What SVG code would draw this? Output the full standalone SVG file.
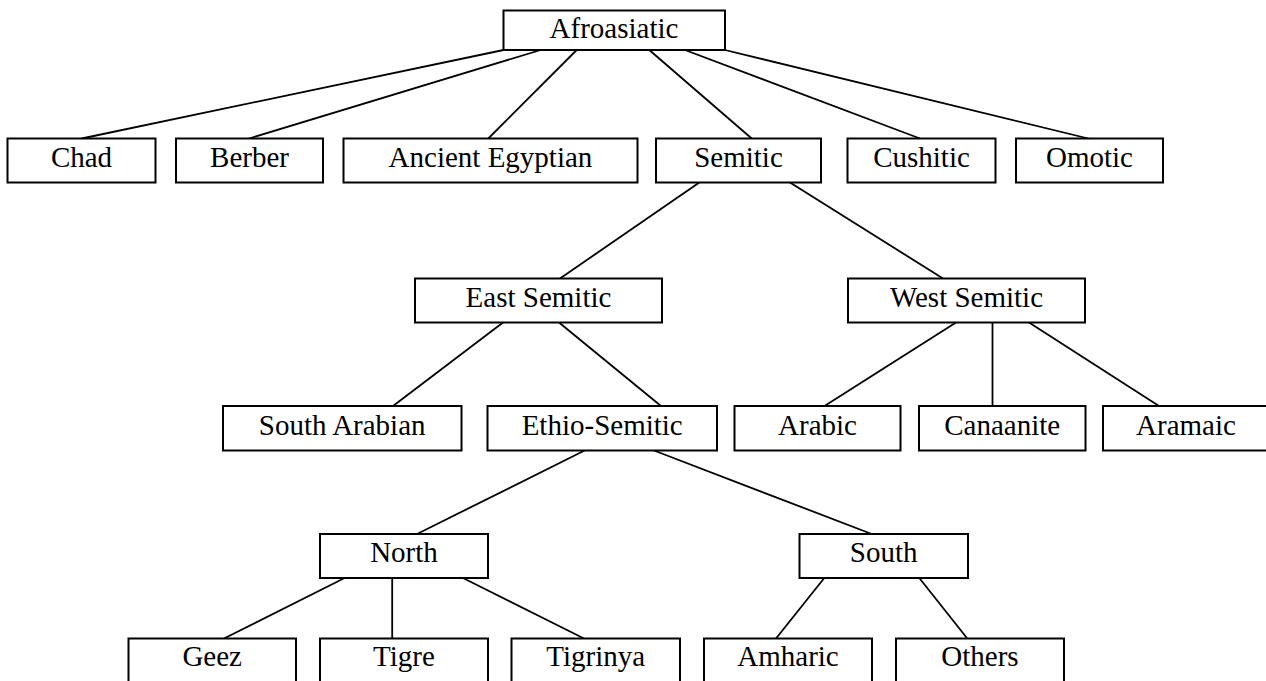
<svg xmlns="http://www.w3.org/2000/svg" width="1266" height="681" viewBox="0 0 1266 681">
<style>
.b{fill:#fff;stroke:#000;stroke-width:2}
.t{font-family:"Liberation Serif","Times New Roman",serif;font-size:29px;fill:#000;text-anchor:middle}
.c line{stroke:#000;stroke-width:1.8}
</style>
<rect width="1266" height="681" fill="#fff"/>
<g class="c" id="connectors">
<line x1="503.5" y1="50" x2="81.7" y2="138.5"/>
<line x1="540.7" y1="50" x2="249" y2="138.5"/>
<line x1="576.7" y1="50" x2="488.3" y2="138.5"/>
<line x1="649.3" y1="50" x2="751.7" y2="138.5"/>
<line x1="685" y1="50" x2="920" y2="138.5"/>
<line x1="725" y1="50" x2="1088.3" y2="138.5"/>
<line x1="699.3" y1="182.5" x2="560" y2="278.5"/>
<line x1="790" y1="182.5" x2="943" y2="278.5"/>
<line x1="503" y1="322.5" x2="393" y2="406"/>
<line x1="559" y1="322.5" x2="661" y2="406"/>
<line x1="956" y1="322.5" x2="824.5" y2="406"/>
<line x1="992.5" y1="322.5" x2="992.5" y2="406"/>
<line x1="1029" y1="322.5" x2="1159" y2="406"/>
<line x1="584.6" y1="450.5" x2="417" y2="534"/>
<line x1="654" y1="450.5" x2="871.7" y2="534"/>
<line x1="344.6" y1="578" x2="224" y2="638.5"/>
<line x1="392.2" y1="578" x2="392.2" y2="638.5"/>
<line x1="463" y1="578" x2="584" y2="638.5"/>
<line x1="824.3" y1="578" x2="776" y2="638.5"/>
<line x1="919.3" y1="578" x2="967.3" y2="638.5"/>
</g>
<g id="n-afroasiatic"><rect class="b" x="503.5" y="10.5" width="221.5" height="39.5"/><text class="t" x="614" y="38">Afroasiatic</text></g>
<g id="n-chad"><rect class="b" x="7.5" y="138.5" width="148" height="44"/><text class="t" x="81.5" y="166.5">Chad</text></g>
<g id="n-berber"><rect class="b" x="176" y="138.5" width="147" height="44"/><text class="t" x="249.5" y="166.5">Berber</text></g>
<g id="n-ancient-egyptian"><rect class="b" x="343.5" y="138.5" width="294" height="44"/><text class="t" x="490.5" y="166.5">Ancient Egyptian</text></g>
<g id="n-semitic"><rect class="b" x="656" y="138.5" width="165" height="44"/><text class="t" x="738.5" y="166.5">Semitic</text></g>
<g id="n-cushitic"><rect class="b" x="847.5" y="138.5" width="148" height="44"/><text class="t" x="921.5" y="166.5">Cushitic</text></g>
<g id="n-omotic"><rect class="b" x="1016" y="138.5" width="147" height="44"/><text class="t" x="1089.5" y="166.5">Omotic</text></g>
<g id="n-east-semitic"><rect class="b" x="415" y="278.5" width="247" height="44"/><text class="t" x="538.5" y="306.5">East Semitic</text></g>
<g id="n-west-semitic"><rect class="b" x="848" y="278.5" width="237" height="44"/><text class="t" x="966.5" y="306.5">West Semitic</text></g>
<g id="n-south-arabian"><rect class="b" x="223" y="406" width="238.5" height="44.5"/><text class="t" x="342.2" y="434.5">South Arabian</text></g>
<g id="n-ethio-semitic"><rect class="b" x="487.5" y="406" width="229.5" height="44.5"/><text class="t" x="602.2" y="434.5">Ethio-Semitic</text></g>
<g id="n-arabic"><rect class="b" x="734.5" y="406" width="166" height="44.5"/><text class="t" x="817.5" y="434.5">Arabic</text></g>
<g id="n-canaanite"><rect class="b" x="919" y="406" width="166.5" height="44.5"/><text class="t" x="1002.2" y="434.5">Canaanite</text></g>
<g id="n-aramaic"><rect class="b" x="1103" y="406" width="170" height="44.5"/><text class="t" x="1186" y="434.5">Aramaic</text></g>
<g id="n-north"><rect class="b" x="320" y="534" width="168" height="44"/><text class="t" x="404" y="562">North</text></g>
<g id="n-south"><rect class="b" x="799.5" y="534" width="168.5" height="44"/><text class="t" x="883.7" y="562">South</text></g>
<g id="n-geez"><rect class="b" x="128.5" y="638.5" width="167.5" height="60"/><text class="t" x="212.2" y="666">Geez</text></g>
<g id="n-tigre"><rect class="b" x="320" y="638.5" width="168" height="60"/><text class="t" x="404" y="666">Tigre</text></g>
<g id="n-tigrinya"><rect class="b" x="511.5" y="638.5" width="168.5" height="60"/><text class="t" x="595.7" y="666">Tigrinya</text></g>
<g id="n-amharic"><rect class="b" x="704" y="638.5" width="168" height="60"/><text class="t" x="788" y="666">Amharic</text></g>
<g id="n-others"><rect class="b" x="896" y="638.5" width="168" height="60"/><text class="t" x="980" y="666">Others</text></g>
</svg>
